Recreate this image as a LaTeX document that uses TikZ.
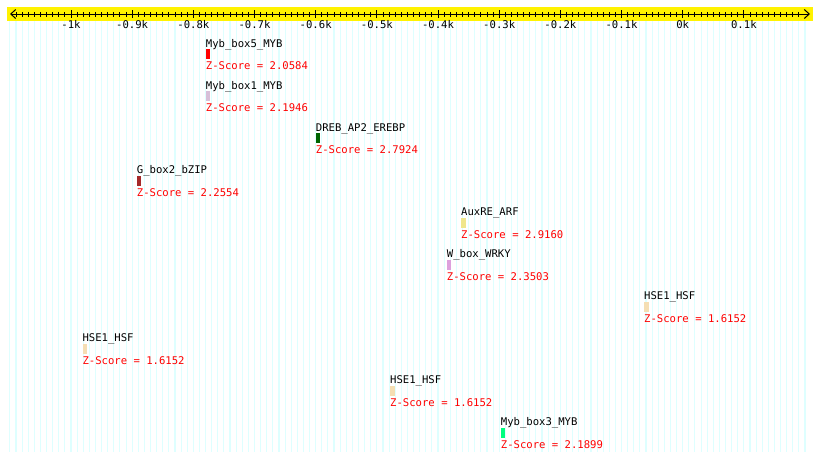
\documentclass[tikz,border=0pt]{standalone}
\usepackage{fontspec}
\setmonofont{DejaVu Sans Mono}
\usetikzlibrary{arrows.meta}
\definecolor{gridc}{RGB}{222,255,255}
\definecolor{mred}{RGB}{255,0,0}
\definecolor{mthistle}{RGB}{216,191,216}
\definecolor{mdkgreen}{RGB}{0,100,0}
\definecolor{mbrown}{RGB}{165,42,42}
\definecolor{mkhaki}{RGB}{240,230,140}
\definecolor{mplum}{RGB}{221,160,221}
\definecolor{mwheat}{RGB}{245,222,179}
\definecolor{mspring}{RGB}{0,255,127}
\begin{document}
\begin{tikzpicture}[x=1pt,y=-1pt,
  lab/.style={anchor=base west,inner sep=0pt,font=\fontsize{10.6}{12}\selectfont\ttfamily},
  zs/.style={lab,text=red},
  axlab/.style={lab,anchor=base},
  motifbar/.style={anchor=north west,inner sep=0pt,minimum width=4.5pt,minimum height=10pt,draw=none},
  gridline/.style={gridc,line width=1.1pt},
  minortick/.style={line width=0.9pt},
  majortick/.style={line width=1pt},
  rulerline/.style={line width=1pt,{Straight Barb[length=5pt,width=9pt]}-{Straight Barb[length=5pt,width=9pt]}}]
\path[use as bounding box] (0,0) rectangle (820,461);
% background grid
\foreach \v in {-1100,-1090,...,200}
  \draw[gridline] ({682.7+0.6117*\v},21) -- ++(0,431);
% ruler
\fill[yellow] (7,7) rectangle (813,21);
\coordinate (rl) at (10,14);
\coordinate (rr) at (810,14);
\draw[rulerline] (rl) -- (rr);
\foreach \v in {-1090,-1080,...,190}
  \draw[minortick] ({682.7+0.6117*\v},12) -- ++(0,4.5);
\foreach \v/\t [count=\k] in {-1000/-1k,-900/-0.9k,-800/-0.8k,-700/-0.7k,-600/-0.6k,-500/-0.5k,-400/-0.4k,-300/-0.3k,-200/-0.2k,-100/-0.1k,0/0k,100/0.1k}{
  \draw[majortick] ({682.7+0.6117*\v},10) -- ++(0,8);
  \node[axlab] (ax\k) at ({682.7+0.6117*\v},28) {\t};
}
% motifs
\foreach \i/\x/\name/\col/\z in {
  0/205.7/Myb\_box5\_MYB/mred/2.0584,
  1/205.7/Myb\_box1\_MYB/mthistle/2.1946,
  2/315.7/DREB\_AP2\_EREBP/mdkgreen/2.7924,
  3/136.7/G\_box2\_bZIP/mbrown/2.2554,
  4/461/AuxRE\_ARF/mkhaki/2.9160,
  5/446.7/W\_box\_WRKY/mplum/2.3503,
  6/644/HSE1\_HSF/mwheat/1.6152,
  7/82.3/HSE1\_HSF/mwheat/1.6152,
  8/390/HSE1\_HSF/mwheat/1.6152,
  9/500.7/Myb\_box3\_MYB/mspring/2.1899}{
  \node[lab] (lab\i) at (\x,{47+42.1*\i}) {\name};
  \node[motifbar,fill=\col] (bar\i) at (\x,{49+42.1*\i}) {};
  \node[zs] (z\i) at (\x,{69.7+42.1*\i}) {Z-Score = \z};
}
\end{tikzpicture}
\end{document}
